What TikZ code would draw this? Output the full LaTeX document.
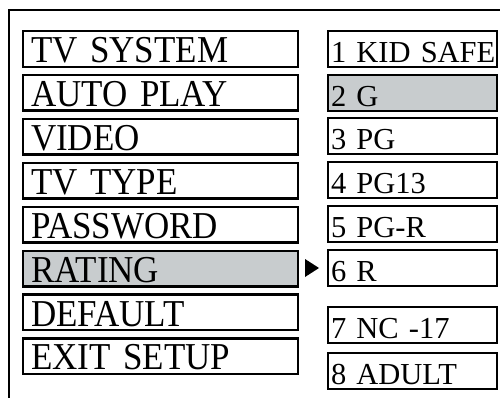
\documentclass[tikz,border=0pt]{standalone}
\usepackage{fontspec}
\setmainfont{Liberation Serif}
\newfontfamily\menufont[FakeStretch=0.92]{Liberation Serif}
\newfontfamily\ratefont{Liberation Serif}
\newcommand\menusize{\menufont\fontsize{38}{40}\selectfont\spaceskip 5pt\relax}
\newcommand\ratesize{\ratefont\fontsize{30.5}{32}\selectfont\spaceskip 5.5pt\relax}
\usetikzlibrary{calc}
\definecolor{selgray}{RGB}{200,204,206}

\tikzset{
	menuitem/.style={draw, line width=2.4pt, anchor=north west, align=left,
		text width=259pt, inner xsep=7.8pt, inner ysep=1.8pt,
		text height=29.6pt, text depth=2.4pt, font=\menusize},
	rateitem/.style={draw, line width=2.4pt, anchor=north west, align=left,
		text width=163pt, inner xsep=2.8pt, inner ysep=2.3pt,
		text height=28.8pt, text depth=2.2pt, font=\ratesize},
	picked/.style={fill=selgray},
	plain/.style={}
}

\begin{document}
\begin{tikzpicture}[x=1pt, y=-1pt]
	\useasboundingbox (0,0) rectangle (500,398);
	\clip (0,0) rectangle (500,398);
	\draw[line width=2pt] (9,10) rectangle (540,440);
	\foreach \txt/\opt [count=\i] in {TV SYSTEM/plain, AUTO PLAY/plain, VIDEO/plain, TV TYPE/plain,
			PASSWORD/plain, RATING/picked, DEFAULT/plain, EXIT SETUP/plain}{
		\node[menuitem, \opt] (m\i) at (22, {30+(\i-1)*43.9}) {\mbox{\txt}};
	}
	\foreach \txt/\y/\opt [count=\i] in {1 KID SAFE/30/plain, 2 G/74/picked, 3 PG/117/plain,
			4 PG13/161/plain, 5 PG-R/205/plain, 6 R/249/plain, 7 NC -17/306/plain, 8 ADULT/352/plain}{
		\node[rateitem, \opt] (r\i) at (327, \y) {\mbox{\txt}};
	}
	\fill ($(r6.west)+(-22,-9)$) -- ($(r6.west)+(-8,0)$) -- ($(r6.west)+(-22,9)$) -- cycle;
\end{tikzpicture}
\end{document}
